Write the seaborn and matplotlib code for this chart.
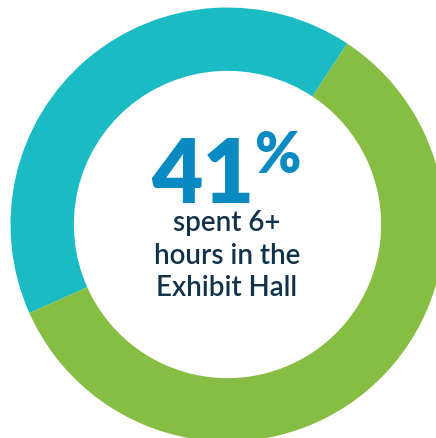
import matplotlib
matplotlib.use("Agg")
import matplotlib.pyplot as plt
import seaborn as sns

# data
labels = ["6+ hours", "Less than 6 hours"]
shares = [41, 59]
colors = ["#1BBBC3", "#86BD43"]

headline = "41"
headline_sign = "%"
caption_lines = ["spent 6+", "hours in the", "Exhibit Hall"]

sns.set_theme(style="white")
plt.rcParams["font.family"] = ["Lato", "DejaVu Sans"]

W, H, DPI = 436, 439, 100
CX, CY, R = 227.5, 225.5, 217.0


def px(x, y):
    # pixel position (from top-left) -> data coords
    return (x - CX) / R, (CY - y) / R


fig = plt.figure(figsize=(W / DPI, H / DPI), dpi=DPI)
ax = fig.add_axes([0, 0, 1, 1])
ax.pie(shares, colors=colors, startangle=56.5, counterclock=True,
       radius=1.0, wedgeprops=dict(width=0.292, linewidth=0))
ax.set_aspect("auto")
ax.set_xlim(-CX / R, (W - CX) / R)
ax.set_ylim(-(H - CY) / R, CY / R)
ax.axis("off")

blue = "#0A8AC3"
x, y = px(203, 203)
ax.text(x, y, headline, ha="center", va="baseline", fontsize=64,
        fontweight="heavy", color=blue)
x, y = px(254, 173)
ax.text(x, y, headline_sign, ha="left", va="baseline", fontsize=40,
        fontweight="heavy", color=blue)

# caption
for line, base in zip(caption_lines, [231, 264, 296]):
    x, y = px(227, base)
    ax.text(x, y, line, ha="center", va="baseline", fontsize=20,
            fontweight="semibold", color="#10334A")

fig.savefig("out.png", dpi=DPI, facecolor="white")
